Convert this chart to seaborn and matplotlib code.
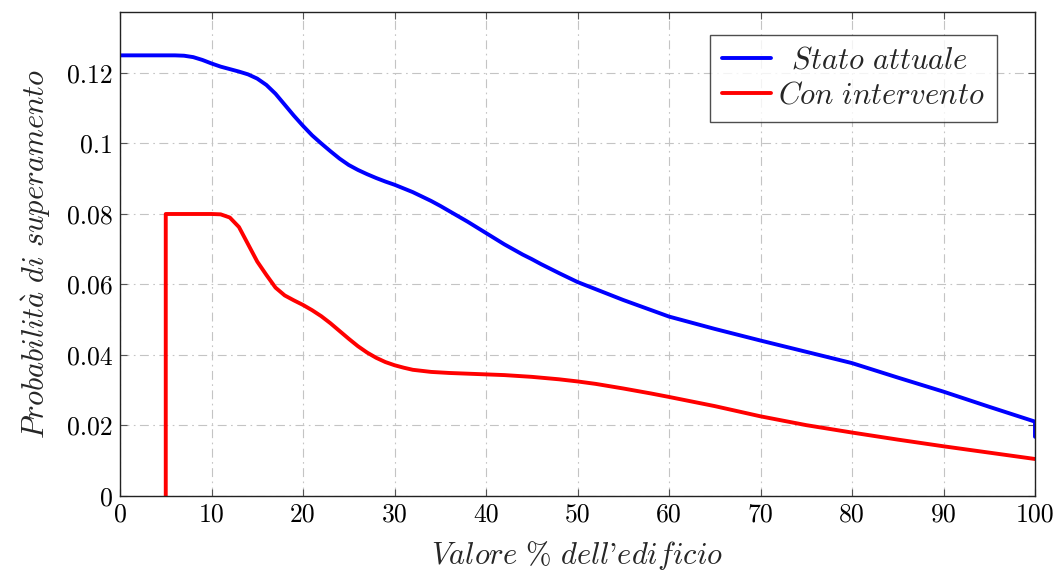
import matplotlib
matplotlib.use("Agg")
import matplotlib.pyplot as plt
import numpy as np
import pandas as pd
import seaborn as sns

# Exceedance probability vs. building value share
stato_x = [0, 2, 4, 6, 7, 8, 9, 10, 11, 12, 13, 14, 15, 16, 17, 18, 19, 20,
           21, 22, 23, 24, 25, 26, 27, 28, 29, 30, 32, 34, 35, 36, 38, 40,
           42, 44, 45, 46, 48, 50, 55, 60, 65, 70, 75, 80, 85, 90, 95, 100, 100]
stato_y = [0.1250, 0.1250, 0.1250, 0.1250, 0.1249, 0.1245, 0.1237, 0.1227,
           0.1218, 0.1211, 0.1204, 0.1196, 0.1184, 0.1166, 0.1141, 0.1110,
           0.1079, 0.1050, 0.1023, 0.1000, 0.0978, 0.0957, 0.0939, 0.0925,
           0.0913, 0.0902, 0.0892, 0.0883, 0.0862, 0.0837, 0.0823, 0.0808,
           0.0778, 0.0746, 0.0714, 0.0685, 0.0672, 0.0658, 0.0632, 0.0607,
           0.0556, 0.0509, 0.0474, 0.0441, 0.0409, 0.0377, 0.0336, 0.0296,
           0.0253, 0.0211, 0.0168]

interv_x = [5, 5, 6, 8, 10, 11, 12, 13, 14, 15, 16, 17, 18, 19, 20, 21, 22,
            23, 24, 25, 26, 27, 28, 29, 30, 31, 32, 34, 36, 38, 40, 42, 45,
            48, 50, 52, 55, 58, 60, 65, 70, 75, 80, 85, 90, 95, 100]
interv_y = [0.0, 0.0800, 0.0800, 0.0800, 0.0800, 0.0799, 0.0790, 0.0763,
            0.0714, 0.0665, 0.0627, 0.0591, 0.0569, 0.0555, 0.0542, 0.0527,
            0.0510, 0.0490, 0.0468, 0.0446, 0.0425, 0.0407, 0.0392, 0.0380,
            0.0371, 0.0364, 0.0358, 0.0352, 0.0349, 0.0347, 0.0345, 0.0343,
            0.0338, 0.0331, 0.0325, 0.0318, 0.0305, 0.0291, 0.0281, 0.0255,
            0.0226, 0.0201, 0.0180, 0.0160, 0.0141, 0.0123, 0.0105]

series_names = [r"$\enspace Stato\ attuale$", r"$Con\ intervento$"]
xticks = list(range(0, 101, 10))
yticks = [0.0, 0.02, 0.04, 0.06, 0.08, 0.10, 0.12]
ytick_labels = ["0", "0.02", "0.04", "0.06", "0.08", "0.1", "0.12"]
xlabel = r"$Valore\ \%\ dell$'$edificio$"
ylabel = r"$Probabilit\grave{a}\ di\ superamento$"

df = pd.concat([
    pd.DataFrame({"x": stato_x, "y": stato_y, "serie": series_names[0]}),
    pd.DataFrame({"x": interv_x, "y": interv_y, "serie": series_names[1]}),
], ignore_index=True)

sns.set_theme(style="white")
plt.rcParams.update({
    "font.family": ["cmr10", "DejaVu Serif"],
    "mathtext.fontset": "cm",
    "axes.unicode_minus": False,
    "axes.formatter.use_mathtext": True,
})

fig = plt.figure(figsize=(10.64, 5.77), dpi=100)
ax = fig.add_axes([120 / 1064, 81 / 577, 915 / 1064, 484 / 577])

sns.lineplot(data=df, x="x", y="y", hue="serie", ax=ax,
             palette=["#0000ff", "#ff0000"], estimator=None, sort=False,
             linewidth=2.8, legend=True)

ax.set_xlim(0, 100)
ax.set_ylim(0, 0.1373)
ax.set_xticks(xticks)
ax.set_xticklabels([str(t) for t in xticks])
ax.set_yticks(yticks)
ax.set_yticklabels(ytick_labels)

ax.grid(True, color="#c4c4c4", linewidth=0.8, linestyle=(0, (8, 4, 1.5, 4)))
ax.set_axisbelow(True)

for s in ax.spines.values():
    s.set_color("#222222")
    s.set_linewidth(1.0)
    s.set_visible(True)

ax.tick_params(axis="both", which="major", direction="in", length=5,
               width=0.8, color="#555555", labelsize=18.5, pad=5,
               top=True, right=True, bottom=True, left=True, labelcolor="black")

ax.set_xlabel(xlabel, fontsize=22, labelpad=9)
ax.set_ylabel(ylabel, fontsize=22, labelpad=10)

leg = ax.legend(loc="upper right", bbox_to_anchor=(0.9585, 0.9525),
                borderaxespad=0, fontsize=22, frameon=True, fancybox=False,
                handlelength=1.6, handletextpad=0.25, borderpad=0.4,
                labelspacing=0.25, title=None)
leg.get_frame().set_edgecolor("#222222")
leg.get_frame().set_linewidth(1.0)
for line in leg.get_lines():
    line.set_linewidth(2.8)

fig.savefig("out.png", dpi=100)
